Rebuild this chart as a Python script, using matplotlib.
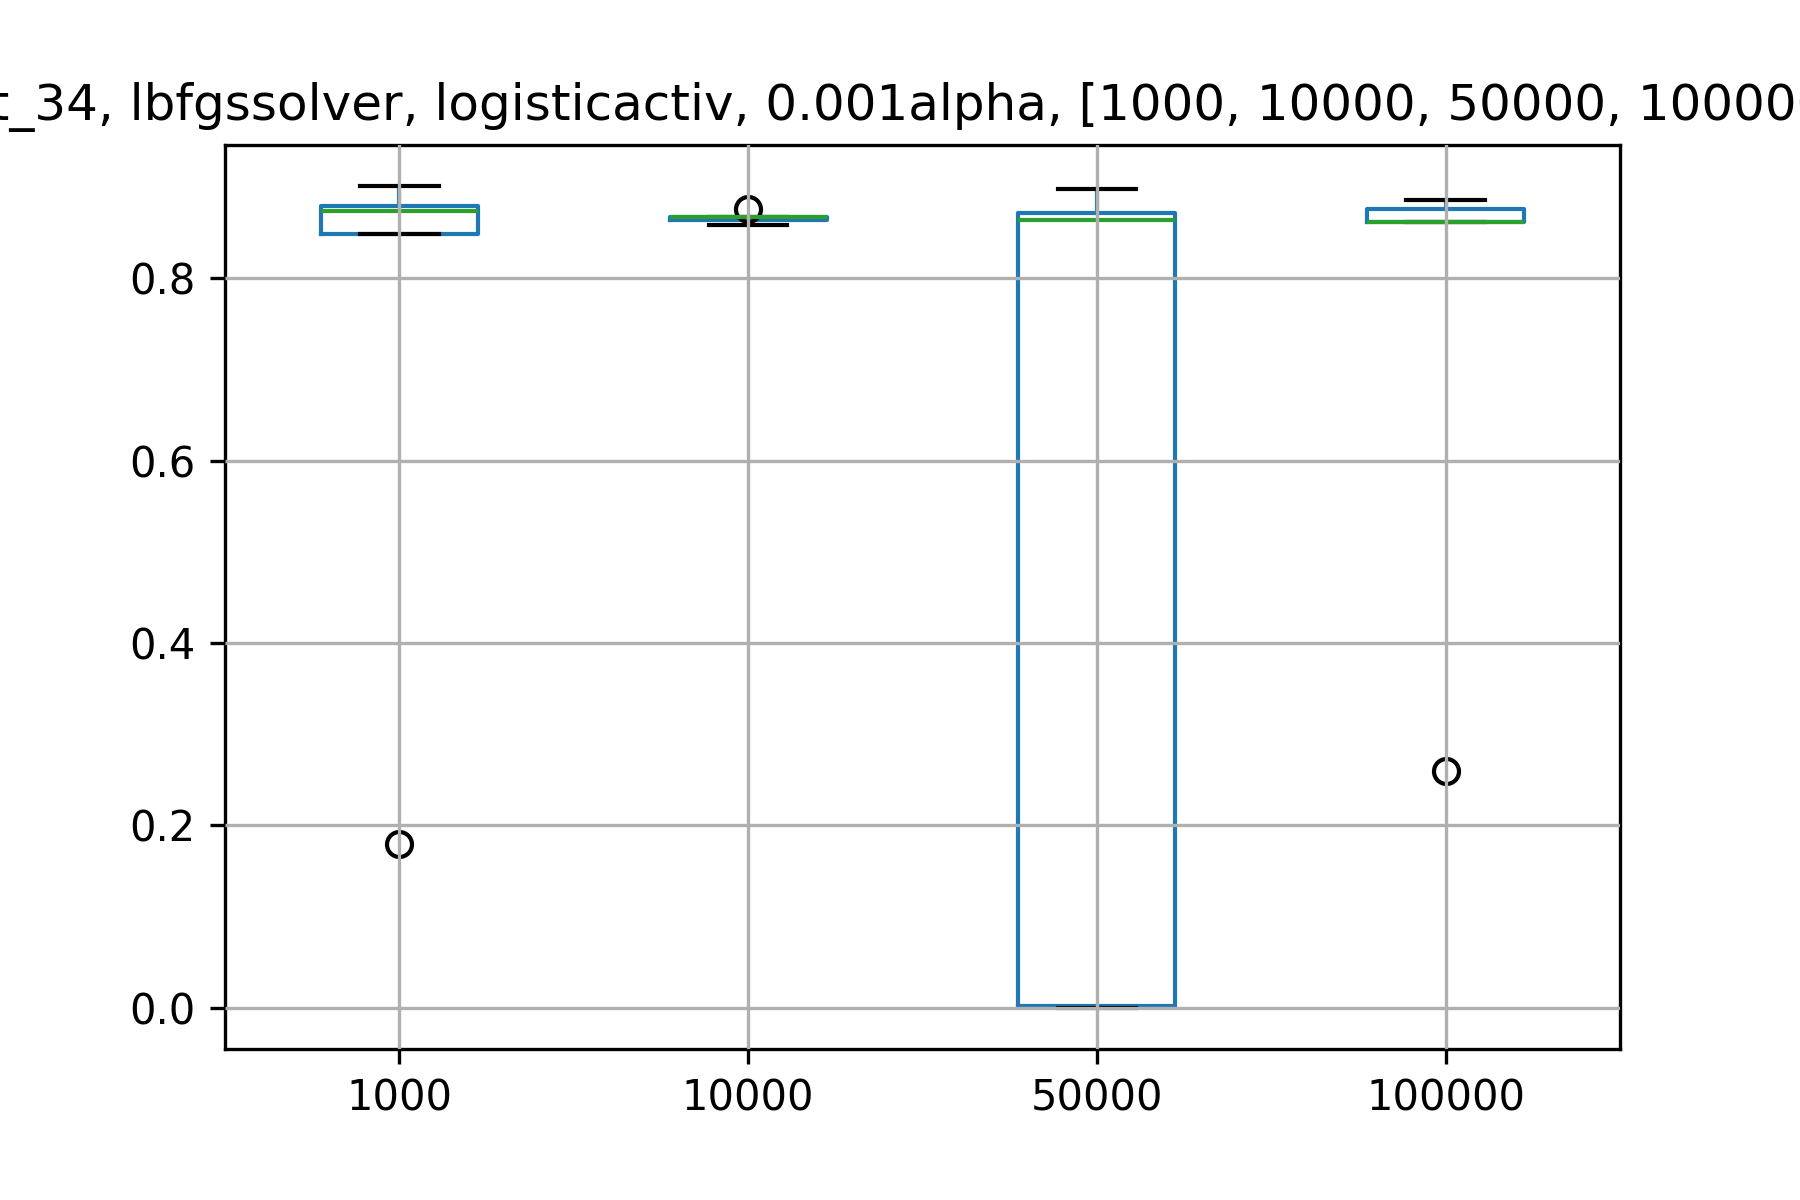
import matplotlib
matplotlib.use("Agg")
import matplotlib.pyplot as plt

labels = ["1000", "10000", "50000", "100000"]
whislo = [0.849, 0.859, 0.000, 0.862]
q1 = [0.849, 0.864, 0.0015, 0.862]
med = [0.874, 0.867, 0.864, 0.862]
q3 = [0.879, 0.8675, 0.872, 0.876]
whishi = [0.901, 0.8675, 0.898, 0.886]
fliers = [[0.180], [0.876], [], [0.260]]

title = "test_34, lbfgssolver, logisticactiv, 0.001alpha, [1000, 10000, 50000, 100000]iter"

stats = []
for i, lab in enumerate(labels):
    stats.append(dict(label=lab, whislo=whislo[i], q1=q1[i], med=med[i],
                      q3=q3[i], whishi=whishi[i], fliers=fliers[i]))

fig, ax = plt.subplots(figsize=(6, 4), dpi=300)
fig.subplots_adjust(left=0.125, right=0.9, top=0.879, bottom=0.126)
ax.bxp(stats,
       boxprops=dict(color="#1f77b4"),
       whiskerprops=dict(color="#1f77b4"),
       medianprops=dict(color="#2ca02c"),
       capprops=dict(color="black"),
       flierprops=dict(marker="o", markerfacecolor="none", markeredgecolor="black"))
ax.grid(True)
ax.set_axisbelow(False)
ax.set_title(title)
fig.savefig("out.png", dpi=300)
